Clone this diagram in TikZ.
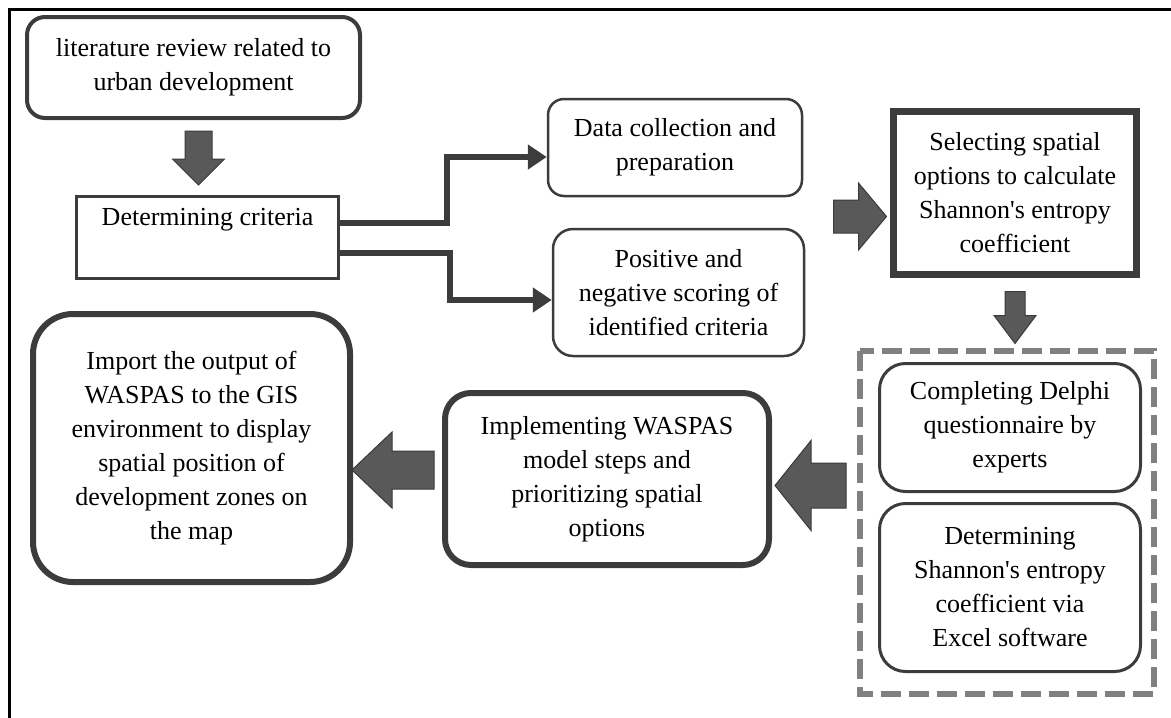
\documentclass[tikz,border=0pt]{standalone}
\usepackage{fontspec}
\setmainfont{Liberation Serif}
\usetikzlibrary{calc,arrows.meta}

\definecolor{boxline}{HTML}{3C3C3C}
\definecolor{arrowfill}{HTML}{595959}
\definecolor{arrowline}{HTML}{3A3A3A}
\definecolor{dashgray}{HTML}{808080}

% block arrow: start point, direction angle, length, shaft half-width, head half-width, head length
\newcommand\blockarrow[6]{%
  \draw[blockarr, shift={(#1)}, rotate=#2]
    (0,-#4) -- (#3-#6,-#4) -- (#3-#6,-#5) -- (#3,0) -- (#3-#6,#5) -- (#3-#6,#4) -- (0,#4) -- cycle;}

\tikzset{
  txt/.style={font=\fontsize{26}{34}\selectfont, align=center, inner sep=0pt},
  box/.style={draw=boxline, fill=white, txt, rectangle},
  blockarr/.style={fill=arrowfill, draw=arrowline, line width=1pt, line join=miter},
  conn/.style={draw=boxline, line width=6pt, line join=miter,
               -{Triangle[length=19pt,width=24pt]}},
}

\begin{document}
\begin{tikzpicture}[x=1pt, y=-1pt]
\useasboundingbox (0,0) rectangle (1171,718);

% frame on the left and top
\draw[black, line width=3pt] (9.5,718) -- (9.5,9.5) -- (1171,9.5);

% boxes
\node[box, line width=4pt, rounded corners=18pt, minimum width=333pt, minimum height=101pt]
  (lit) at (193.5,67.5) {literature review related to\\urban development};
\node[box, line width=3pt, minimum width=262pt, minimum height=82pt]
  (crit) at (207.5,237.5) {};
\node[txt] (crittext) at (207.5,220) {Determining criteria};

\node[box, line width=2.5pt, rounded corners=16pt, minimum width=254pt, minimum height=97pt]
  (data) at (675,147.5) {Data collection and\\preparation};
\node[box, line width=2.5pt, rounded corners=20pt, minimum width=251pt, minimum height=127pt]
  (pos) at (678.5,292.5) {Positive and\\negative scoring of\\identified criteria};

\node[box, line width=7pt, minimum width=243pt, minimum height=163pt]
  (sel) at (1015,193) {Selecting spatial\\options to calculate\\Shannon\textquotesingle s entropy\\coefficient};

% dashed group
\draw[dashgray, line width=6pt, dash pattern=on 20pt off 8pt] (860,351) rectangle (1154,694);
\node[box, line width=3pt, rounded corners=26pt, minimum width=261pt, minimum height=128pt]
  (delphi) at (1010,427.5) {Completing Delphi\\questionnaire by\\experts};
\node[box, line width=3pt, rounded corners=26pt, minimum width=261pt, minimum height=168pt]
  (shannon) at (1010,587.5) {Determining\\Shannon\textquotesingle s entropy\\coefficient via\\Excel software};

\node[box, line width=6pt, rounded corners=26pt, minimum width=324pt, minimum height=172pt]
  (waspas) at (607,479) {Implementing WASPAS\\model steps and\\prioritizing spatial\\options};
\node[box, line width=6pt, rounded corners=40pt, minimum width=317pt, minimum height=268pt]
  (gis) at (191.5,448) {Import the output of\\WASPAS to the GIS\\environment to display\\spatial position of\\development zones on\\the map};

% elbow connectors
\draw[conn] ([yshift=14.5pt]crit.east) -- ++(106.5,0) |- ([yshift=-9.5pt]data.west);
\draw[conn] ([yshift=-15.5pt]crit.east) -- ++(109.5,0) |- ([yshift=-7.5pt]pos.west);

% block arrows
\coordinate (a1) at ($(lit.south)+(5,11)$);
\blockarrow{a1}{-90}{54}{13.5}{26}{26}
\coordinate (a2) at ($(sel.west)+(-56.5,23.5)$);
\blockarrow{a2}{0}{53}{16.5}{33.5}{28}
\coordinate (a3) at ($(sel.south)+(0,13.5)$);
\blockarrow{a3}{-90}{52}{10}{21}{28}
\coordinate (a4) at ($(waspas.east)+(74,6.5)$);
\blockarrow{a4}{180}{71}{22.5}{45}{36}
\coordinate (a5) at ($(waspas.west)+(-8,-9)$);
\blockarrow{a5}{180}{82}{19}{38}{40}
\end{tikzpicture}
\end{document}
